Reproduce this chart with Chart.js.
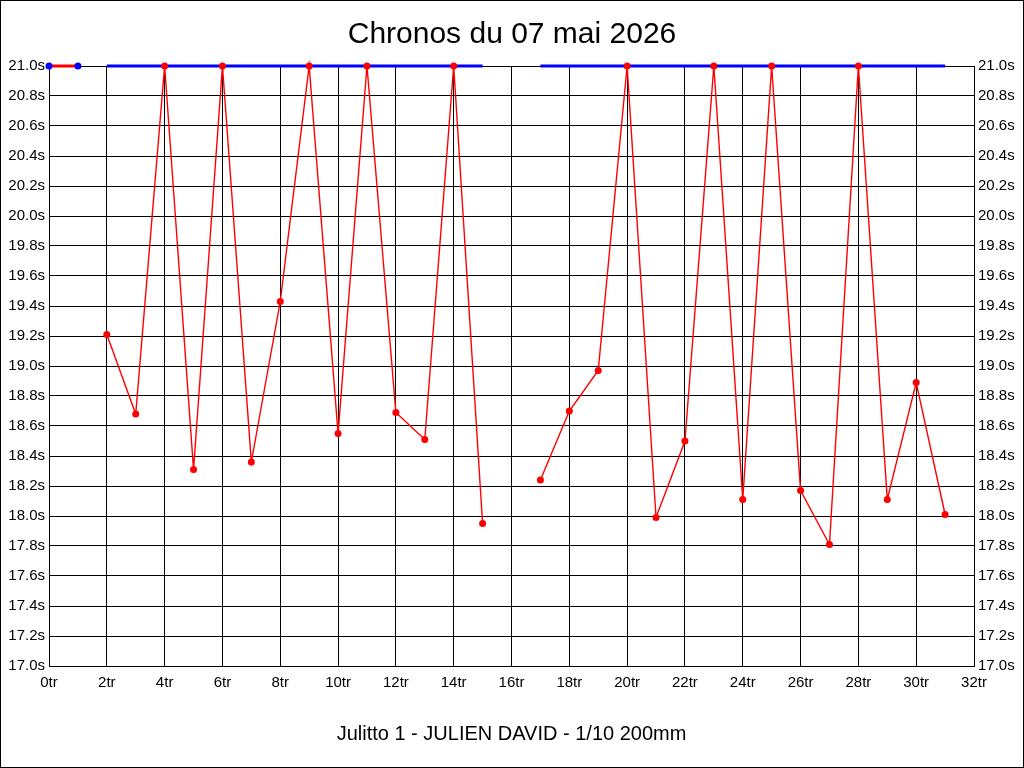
<!DOCTYPE html>
<html>
<head>
<meta charset="utf-8">
<title>Chronos du 07 mai 2026</title>
<script src="https://cdn.jsdelivr.net/npm/chart.js@4/dist/chart.umd.min.js"></script>
<style>
  body { margin: 0; background: #fff; }
  canvas { display: block; }
</style>
</head>
<body>
<canvas id="chronosChart" width="1024" height="768"></canvas>
<script>
// tours (x) et chronos (s)
const tours = [0, 1, 2, 3, 4, 5, 6, 7, 8, 9, 10, 11, 12, 13, 14, 15,
  16, 17, 18, 19, 20, 21, 22, 23, 24, 25, 26, 27, 28, 29, 30, 31];

const chronos = [null, null, 19.21, 18.68, 21.0, 18.31, 21.0, 18.36, 19.43, 21.0,
  18.55, 21.0, 18.69, 18.51, 21.0, 17.95, null, 18.24, 18.70, 18.97, 21.0, 17.99,
  18.50, 21.0, 18.11, 21.0, 18.17, 17.81, 21.0, 18.11, 18.89, 18.01];

const debut = [21.0, 21.0];

const plafond = [null, null, 21.0, 21.0, 21.0, 21.0, 21.0, 21.0, 21.0, 21.0,
  21.0, 21.0, 21.0, 21.0, 21.0, 21.0, null, 21.0, 21.0, 21.0, 21.0, 21.0,
  21.0, 21.0, 21.0, 21.0, 21.0, 21.0, 21.0, 21.0, 21.0, 21.0];

const yMin = 17.0;
const yMax = 21.0;
const xMax = 32;

const tickFont = { family: "'Liberation Sans', Arial, sans-serif", size: 15 };

const frame = {
  id: 'frame',
  beforeDraw(chart) {
    const ctx = chart.ctx;
    ctx.save();
    ctx.fillStyle = '#fff';
    ctx.fillRect(0, 0, chart.width, chart.height);
    ctx.restore();
  },
  afterDraw(chart) {
    const ctx = chart.ctx;
    ctx.save();
    ctx.strokeStyle = '#000';
    ctx.lineWidth = 1;
    ctx.strokeRect(0.5, 0.5, chart.width - 1, chart.height - 1);
    ctx.restore();
  }
};

const pts = (vals) => vals.map((v, i) => ({ x: tours[i], y: v }));

new Chart(document.getElementById('chronosChart'), {
  type: 'line',
  data: {
    datasets: [
      {
        label: 'Chronos',
        data: pts(chronos),
        borderColor: '#ff0000',
        backgroundColor: '#ff0000',
        borderWidth: 1.4,
        pointRadius: 3.5,
        pointBorderWidth: 0,
        pointBackgroundColor: '#ff0000',
        spanGaps: false,
        tension: 0,
        clip: 6
      },
      {
        label: 'Début',
        data: pts(debut),
        borderColor: '#ff0000',
        borderWidth: 3,
        pointRadius: 3.5,
        pointBorderWidth: 0,
        pointBackgroundColor: '#0000ff',
        tension: 0,
        clip: 6
      },
      {
        label: 'Plafond',
        data: pts(plafond),
        borderColor: '#0000ff',
        borderWidth: 3,
        pointRadius: 0,
        spanGaps: false,
        tension: 0,
        clip: 6
      }
    ]
  },
  options: {
    responsive: false,
    devicePixelRatio: 1,
    animation: false,
    layout: { padding: 0 },
    plugins: {
      legend: { display: false },
      tooltip: { enabled: false },
      title: {
        display: true,
        text: 'Chronos du 07 mai 2026',
        color: '#000',
        font: { family: "'Liberation Sans', Arial, sans-serif", size: 30, weight: 'normal' },
        padding: { top: 17, bottom: 13 }
      }
    },
    scales: {
      x: {
        type: 'linear',
        min: 0,
        max: xMax,
        border: { color: '#000', width: 1 },
        grid: { color: '#000', lineWidth: 1, drawTicks: false },
        ticks: {
          stepSize: 2,
          color: '#000',
          font: tickFont,
          padding: 8,
          maxRotation: 0,
          callback: v => v + 'tr'
        },
        title: {
          display: true,
          text: 'Julitto 1 - JULIEN DAVID - 1/10 200mm',
          color: '#000',
          font: { family: "'Liberation Sans', Arial, sans-serif", size: 20 },
          padding: { top: 0, bottom: 22 }
        },
        afterFit: s => { s.height = 102; }
      },
      y: {
        position: 'left',
        min: yMin,
        max: yMax,
        border: { color: '#000', width: 1 },
        grid: { color: '#000', lineWidth: 1, drawTicks: false },
        ticks: {
          stepSize: 0.2,
          color: '#000',
          font: tickFont,
          padding: 4,
          callback: v => v.toFixed(1) + 's'
        },
        afterFit: s => { s.width = 49; }
      },
      y2: {
        position: 'right',
        min: yMin,
        max: yMax,
        border: { color: '#000', width: 1 },
        grid: { display: false, drawTicks: false },
        ticks: {
          stepSize: 0.2,
          color: '#000',
          font: tickFont,
          padding: 4,
          callback: v => v.toFixed(1) + 's'
        },
        afterFit: s => { s.width = 50; }
      }
    }
  },
  plugins: [frame]
});
</script>
</body>
</html>
